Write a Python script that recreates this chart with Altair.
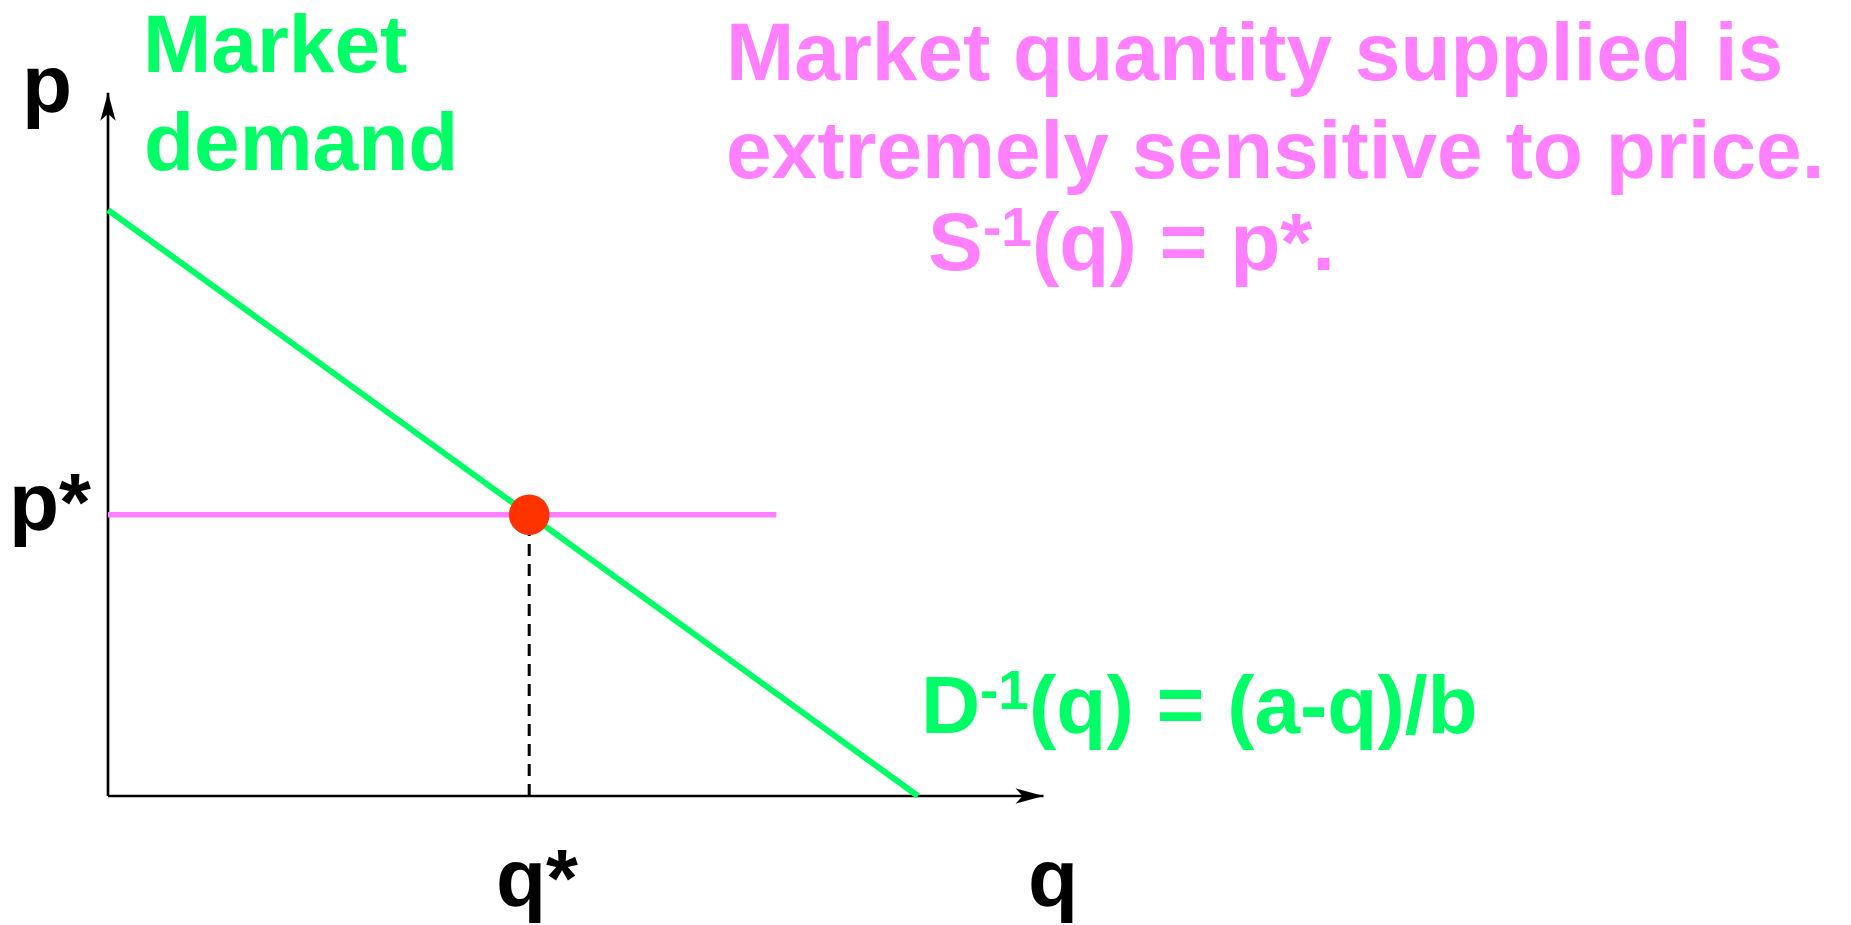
import altair as alt
import pandas as pd

# ---- data (economic units) ----
demand_q = [0.0, 10.0]
demand_p = [10.0, 0.0]
q_star = [5.2]
p_star = [4.8]
supply_q = [0.0, 8.25]
supply_p = [4.8, 4.8]
xaxis_q = [0.0, 11.55]
xaxis_p = [0.0, 0.0]
yaxis_q = [0.0, 0.0]
yaxis_p = [0.0, 12.0]

green_title = ["Market", "demand"]
pink_title = ["Market quantity supplied is", "extremely sensitive to price."]
pink_eq = ["S", "-1", "(q) = p*."]
green_eq = ["D", "-1", "(q) = (a-q)/b"]
axis_labels = ["p", "p*", "q*", "q"]

# ---- layout (pixels) ----
W, H = 1835, 917
OX, OY = 100, 788          # origin of q/p axes inside the chart
UX, UY = 81.0, 58.6        # pixels per unit
xs = alt.Scale(domain=[-OX / UX, (W - OX) / UX], nice=False, zero=False)
ys = alt.Scale(domain=[-(H - OY) / UY, OY / UY], nice=False, zero=False)

GREEN = "#00FF66"
PINK = "#FF80FF"
RED = "#FF3300"
FONT = "Liberation Sans"
FS = 82
FS_SUP = 55


def enc(ch):
    return ch.encode(
        x=alt.X("q:Q", scale=xs, axis=None),
        y=alt.Y("p:Q", scale=ys, axis=None),
    )


def line(qv, pv, color, width, dash=None):
    kw = dict(color=color, strokeWidth=width, strokeCap="butt")
    if dash:
        kw["strokeDash"] = dash
    return enc(alt.Chart(pd.DataFrame({"q": qv, "p": pv})).mark_line(**kw))


arrow_path = "M0,0L-2,-0.55L-1.5,0L-2,0.55Z"


def arrow(qv, pv, angle):
    return enc(
        alt.Chart(pd.DataFrame({"q": qv, "p": pv})).mark_point(
            shape=arrow_path, size=784, filled=True, color="black",
            opacity=1, strokeWidth=0, angle=angle
        )
    )


def text(s, x, y, color, size=FS):
    return alt.Chart(pd.DataFrame({"t": [s]})).mark_text(
        font=FONT, fontWeight="bold", fontSize=size, color=color,
        align="left", baseline="alphabetic"
    ).encode(text="t:N", x=alt.value(x), y=alt.value(y))


layers = [
    line(xaxis_q, xaxis_p, "black", 2.7),
    line(yaxis_q, yaxis_p, "black", 2.7),
    arrow([xaxis_q[1]], [0.0], 0),
    arrow([0.0], [yaxis_p[1]], 270),
    line([q_star[0], q_star[0]], [0.0, p_star[0]], "black", 3, [12, 8]),
    line(supply_q, supply_p, PINK, 5.5),
    line(demand_q, demand_p, GREEN, 6),
    enc(alt.Chart(pd.DataFrame({"q": q_star, "p": p_star})).mark_circle(
        size=1650, color=RED, opacity=1)),
    # axis labels
    text(axis_labels[0], 14, 104, "black"),
    text(axis_labels[1], 1, 522, "black"),
    text(axis_labels[2], 488, 898, "black"),
    text(axis_labels[3], 1020, 898, "black"),
    # green title
    text(green_title[0], 135, 64, GREEN),
    text(green_title[1], 136, 162, GREEN),
    # pink text
    text(pink_title[0], 718, 72, PINK),
    text(pink_title[1], 718, 170, PINK),
    text(pink_eq[0], 920, 262, PINK),
    text(pink_eq[1], 975, 238, PINK, FS_SUP),
    text(pink_eq[2], 1024, 262, PINK),
    # green equation
    text(green_eq[0], 913, 725, GREEN),
    text(green_eq[1], 972, 701, GREEN, FS_SUP),
    text(green_eq[2], 1021, 725, GREEN),
]

chart = alt.layer(*layers).properties(
    width=W, height=H, padding=0, autosize="none", background="white"
).configure_view(stroke=None)

chart.save("out.html", embed_options={"renderer": "svg", "actions": False})
